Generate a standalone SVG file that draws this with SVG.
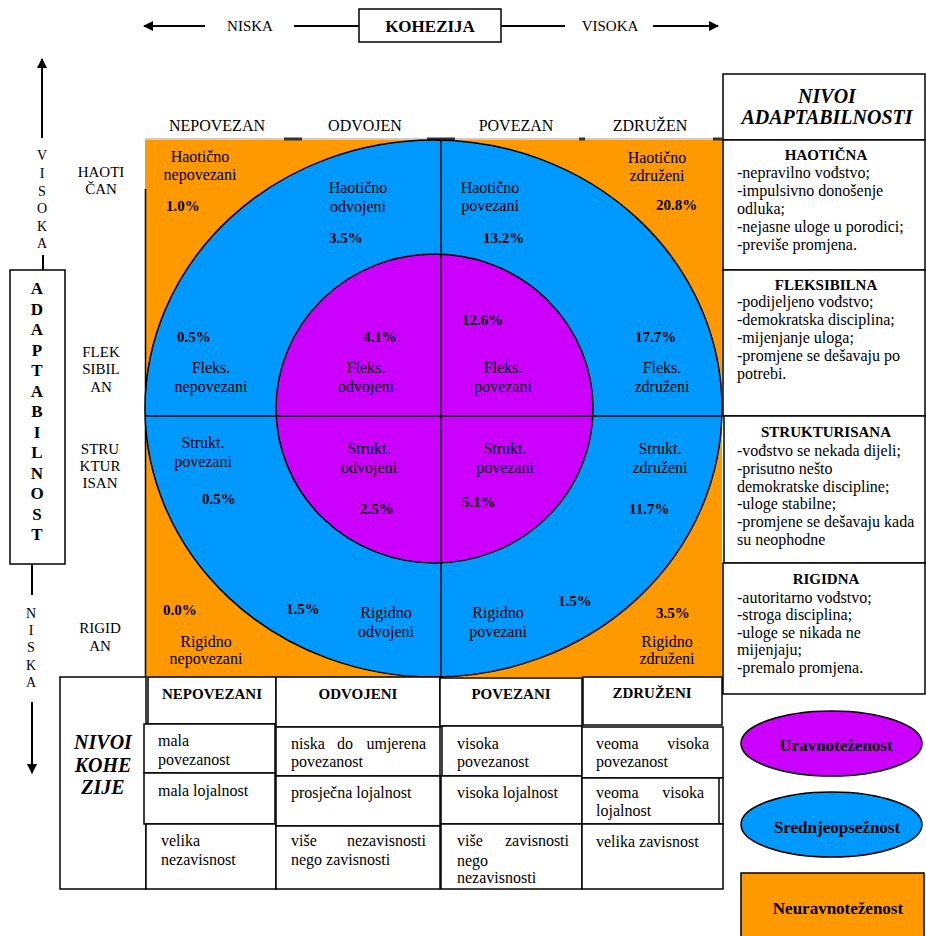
<svg xmlns="http://www.w3.org/2000/svg" width="926" height="936" viewBox="0 0 926 936">
<defs>
<style>
text{font-family:"Liberation Serif","Times New Roman",serif;font-size:16px;fill:#000}
.c{text-anchor:middle}
.e{text-anchor:end}
.b{font-weight:bold}
.p{font-weight:bold;font-size:15px}
.h{font-size:15px}
.bi{font-weight:bold;font-style:italic;font-size:20px}
.ax{font-size:14px;text-anchor:middle}
.al{font-weight:bold;font-size:17px;text-anchor:middle}
.box{fill:#fff;stroke:#000;stroke-width:1.5}
.ln{stroke:#000;stroke-width:1.5;fill:none}
.arr{stroke:#000;stroke-width:2;fill:none}
</style>
<marker id="ah" viewBox="0 0 10 10" refX="9" refY="5" markerWidth="5" markerHeight="5" orient="auto" markerUnits="strokeWidth">
<path d="M0,0 L10,5 L0,10 z" fill="#000"/>
</marker>
</defs>
<rect width="926" height="936" fill="#fff"/>

<g id="model">
<rect x="145" y="140" width="577" height="537" fill="#FF9900"/>
<line x1="145" y1="139" x2="722" y2="139" stroke="#bbb" stroke-width="1.5"/>
<rect x="284" y="137.5" width="18" height="3" fill="#333"/>
<rect x="427" y="137.5" width="28" height="3" fill="#333"/>
<rect x="579" y="137.5" width="6" height="3" fill="#333"/>
<rect x="713" y="137.5" width="9" height="3" fill="#333"/>
<line x1="145.5" y1="189" x2="145.5" y2="677" stroke="#000" stroke-width="1.5"/>
<ellipse cx="433.5" cy="408.5" rx="288.5" ry="268.5" fill="#0099FF" stroke="#000" stroke-width="1.5"/>
<ellipse cx="434.5" cy="408.5" rx="158.5" ry="154.5" fill="#CC00FF" stroke="#000" stroke-width="1.5"/>
<line x1="441" y1="140" x2="441" y2="677" class="ln"/>
<line x1="145" y1="416" x2="724" y2="416" class="ln"/>
</g>

<g id="column-labels">
<text x="217" y="131" class="c">NEPOVEZAN</text>
<text x="365" y="131" class="c">ODVOJEN</text>
<text x="516" y="131" class="c">POVEZAN</text>
<text x="650" y="131" class="c">ZDRUŽEN</text>
</g>

<g id="row-labels">
<text x="101" y="177" class="c h">HAOTI</text>
<text x="101" y="194" class="c h">ČAN</text>
<text x="101" y="357" class="c h">FLEK</text>
<text x="101" y="374" class="c h">SIBIL</text>
<text x="101" y="392" class="c h">AN</text>
<text x="100" y="454" class="c h">STRU</text>
<text x="100" y="471" class="c h">KTUR</text>
<text x="100" y="488" class="c h">ISAN</text>
<text x="100" y="633" class="c h">RIGID</text>
<text x="100" y="651" class="c h">AN</text>
</g>

<g id="q-haoticno-nepovezani"><text x="200" y="162" class="c">Haotično</text><text x="200" y="180" class="c">nepovezani</text><text x="166" y="211" class="p">1.0%</text></g>
<g id="q-haoticno-odvojeni"><text x="358" y="193" class="c">Haotično</text><text x="358" y="212" class="c">odvojeni</text><text x="329" y="243" class="p">3.5%</text></g>
<g id="q-haoticno-povezani"><text x="490" y="193" class="c">Haotično</text><text x="490" y="211" class="c">povezani</text><text x="483" y="243" class="p">13.2%</text></g>
<g id="q-haoticno-zdruzeni"><text x="657" y="163" class="c">Haotično</text><text x="657" y="181" class="c">združeni</text><text x="656" y="210" class="p">20.8%</text></g>

<g id="q-fleks-nepovezani"><text x="177" y="342" class="p">0.5%</text><text x="211" y="373" class="c">Fleks.</text><text x="211" y="392" class="c">nepovezani</text></g>
<g id="q-fleks-odvojeni"><text x="363" y="342" class="p">4.1%</text><text x="366" y="373" class="c">Fleks.</text><text x="366" y="392" class="c">odvojeni</text></g>
<g id="q-fleks-povezani"><text x="462" y="325" class="p">12.6%</text><text x="503" y="373" class="c">Fleks.</text><text x="503" y="392" class="c">povezani</text></g>
<g id="q-fleks-zdruzeni"><text x="635" y="342" class="p">17.7%</text><text x="662" y="373" class="c">Fleks.</text><text x="662" y="392" class="c">združeni</text></g>

<g id="q-strukt-nepovezani"><text x="203" y="448" class="c">Strukt.</text><text x="203" y="467" class="c">povezani</text><text x="202" y="504" class="p">0.5%</text></g>
<g id="q-strukt-odvojeni"><text x="369" y="454" class="c">Strukt.</text><text x="369" y="473" class="c">odvojeni</text><text x="360" y="514" class="p">2.5%</text></g>
<g id="q-strukt-povezani"><text x="505" y="454" class="c">Strukt.</text><text x="505" y="473" class="c">povezani</text><text x="462" y="507" class="p">5.1%</text></g>
<g id="q-strukt-zdruzeni"><text x="660" y="454" class="c">Strukt.</text><text x="660" y="473" class="c">združeni</text><text x="629" y="514" class="p">11.7%</text></g>

<g id="q-rigidno-nepovezani"><text x="163" y="615" class="p">0.0%</text><text x="206" y="647" class="c">Rigidno</text><text x="206" y="664" class="c">nepovezani</text></g>
<g id="q-rigidno-odvojeni"><text x="286" y="614" class="p">1.5%</text><text x="386" y="618" class="c">Rigidno</text><text x="386" y="637" class="c">odvojeni</text></g>
<g id="q-rigidno-povezani"><text x="558" y="606" class="p">1.5%</text><text x="498" y="618" class="c">Rigidno</text><text x="498" y="637" class="c">povezani</text></g>
<g id="q-rigidno-zdruzeni"><text x="656" y="618" class="p">3.5%</text><text x="667" y="647" class="c">Rigidno</text><text x="667" y="664" class="c">združeni</text></g>

<g id="kohezija">
<rect x="359" y="9" width="142" height="33" class="box"/>
<text x="430" y="32" class="c b" style="font-size:17px">KOHEZIJA</text>
<text x="250" y="31" class="c h">NISKA</text>
<text x="610" y="31" class="c h">VISOKA</text>
</g>

<g id="adaptabilnost">
<rect x="10" y="270" width="55" height="294" class="box"/>
<text x="37" y="294" class="al">A</text>
<text x="37" y="314.5" class="al">D</text>
<text x="37" y="335" class="al">A</text>
<text x="37" y="355.5" class="al">P</text>
<text x="37" y="376" class="al">T</text>
<text x="37" y="396.5" class="al">A</text>
<text x="37" y="417" class="al">B</text>
<text x="37" y="437.5" class="al">I</text>
<text x="37" y="458" class="al">L</text>
<text x="37" y="478.5" class="al">N</text>
<text x="37" y="499" class="al">O</text>
<text x="37" y="519.5" class="al">S</text>
<text x="37" y="540" class="al">T</text>
<text x="42" y="160" class="ax">V</text>
<text x="42" y="178" class="ax">I</text>
<text x="42" y="196" class="ax">S</text>
<text x="42" y="213" class="ax">O</text>
<text x="42" y="231" class="ax">K</text>
<text x="42" y="248" class="ax">A</text>
<text x="31" y="618" class="ax">N</text>
<text x="31" y="635" class="ax">I</text>
<text x="31" y="652" class="ax">S</text>
<text x="31" y="670" class="ax">K</text>
<text x="31" y="687" class="ax">A</text>
</g>

<g id="connectors">
<line x1="205" y1="26" x2="144" y2="26" class="arr" marker-end="url(#ah)"/>
<line x1="294" y1="26" x2="359" y2="26" class="arr"/>
<line x1="501" y1="26" x2="565" y2="26" class="arr"/>
<line x1="653" y1="26" x2="718" y2="26" class="arr" marker-end="url(#ah)"/>
<line x1="42" y1="138" x2="42" y2="59" class="arr" marker-end="url(#ah)"/>
<line x1="43" y1="255" x2="43" y2="270" class="arr"/>
<line x1="32" y1="564" x2="32" y2="595" class="arr"/>
<line x1="32" y1="702" x2="32" y2="773" class="arr" marker-end="url(#ah)"/>
</g>

<g id="nivoi-adaptabilnosti">
<rect x="723" y="74" width="202" height="66" class="box"/>
<text x="827" y="103" class="c bi">NIVOI</text>
<text x="827" y="124" class="c bi">ADAPTABILNOSTI</text>
</g>
<g id="panel-haoticna">
<rect x="723" y="140" width="202" height="130" class="box"/>
<text x="826" y="160" class="c p">HAOTIČNA</text>
<text x="737" y="178">-nepravilno vođstvo;</text>
<text x="737" y="196">-impulsivno donošenje</text>
<text x="737" y="214">odluka;</text>
<text x="737" y="232">-nejasne uloge u porodici;</text>
<text x="737" y="250">-previše promjena.</text>
</g>
<g id="panel-fleksibilna">
<rect x="723" y="270" width="202" height="146" class="box"/>
<text x="826" y="290" class="c p">FLEKSIBILNA</text>
<text x="737" y="307">-podijeljeno vođstvo;</text>
<text x="737" y="325">-demokratska disciplina;</text>
<text x="737" y="343">-mijenjanje uloga;</text>
<text x="737" y="361">-promjene se dešavaju po</text>
<text x="737" y="379">potrebi.</text>
</g>
<g id="panel-strukturisana">
<rect x="724" y="416" width="201" height="147" class="box"/>
<text x="826" y="437" class="c p">STRUKTURISANA</text>
<text x="737" y="456">-vođstvo se nekada dijeli;</text>
<text x="737" y="474">-prisutno nešto</text>
<text x="737" y="492">demokratske discipline;</text>
<text x="737" y="509">-uloge stabilne;</text>
<text x="737" y="527">-promjene se dešavaju kada</text>
<text x="737" y="545">su neophodne</text>
</g>
<g id="panel-rigidna">
<rect x="723" y="563" width="202" height="131" class="box"/>
<text x="826" y="584" class="c p">RIGIDNA</text>
<text x="737" y="603">-autoritarno vođstvo;</text>
<text x="737" y="620">-stroga disciplina;</text>
<text x="737" y="638">-uloge se nikada ne</text>
<text x="737" y="655">mijenjaju;</text>
<text x="737" y="673">-premalo promjena.</text>
</g>

<g id="nivoi-kohezije">
<rect x="60" y="677" width="86" height="212" class="box"/>
<text x="103" y="749" class="c bi">NIVOI</text>
<text x="103" y="772" class="c bi">KOHE</text>
<text x="103" y="794" class="c bi">ZIJE</text>
</g>
<g id="col-nepovezani">
<rect x="148" y="677" width="128" height="47" class="box"/>
<text x="212" y="699" class="c p">NEPOVEZANI</text>
<rect x="144" y="724" width="131" height="49" class="box"/>
<text x="158" y="746">mala</text><text x="158" y="765">povezanost</text>
<rect x="144" y="773" width="131" height="51" class="box"/>
<text x="158" y="796">mala lojalnost</text>
<rect x="146" y="824" width="130" height="65" class="box"/>
<text x="161" y="846">velika</text><text x="161" y="865">nezavisnost</text>
</g>
<g id="col-odvojeni">
<rect x="276" y="677" width="164" height="50" class="box"/>
<text x="358" y="699" class="c p">ODVOJENI</text>
<rect x="276" y="727" width="164" height="49" class="box"/>
<text x="291" y="749">niska</text><text x="345" y="749" class="c">do</text><text x="426" y="749" class="e">umjerena</text>
<text x="291" y="767">povezanost</text>
<rect x="276" y="776" width="164" height="50" class="box"/>
<text x="291" y="798">prosječna lojalnost</text>
<rect x="276" y="826" width="164" height="63" class="box"/>
<text x="291" y="846">više</text><text x="426" y="846" class="e">nezavisnosti</text>
<text x="291" y="865">nego zavisnosti</text>
</g>
<g id="col-povezani">
<rect x="440" y="678" width="142" height="48" class="box"/>
<text x="511" y="699" class="c p">POVEZANI</text>
<rect x="442" y="726" width="140" height="50" class="box"/>
<text x="457" y="749">visoka</text><text x="457" y="767">povezanost</text>
<rect x="441" y="776" width="141" height="48" class="box"/>
<text x="457" y="798">visoka lojalnost</text>
<rect x="441" y="824" width="141" height="65" class="box"/>
<text x="457" y="846">više</text><text x="569" y="846" class="e">zavisnosti</text>
<text x="457" y="866">nego</text><text x="457" y="883">nezavisnosti</text>
</g>
<g id="col-zdruzeni">
<rect x="583" y="677" width="139" height="48" class="box"/>
<text x="652" y="698" class="c p">ZDRUŽENI</text>
<rect x="582" y="727" width="141" height="51" class="box"/>
<text x="596" y="749">veoma</text><text x="709" y="749" class="e">visoka</text>
<text x="596" y="767">povezanost</text>
<rect x="582" y="778" width="141" height="46" class="box"/>
<line x1="719" y1="778" x2="719" y2="824" class="ln"/>
<text x="596" y="798">veoma</text><text x="704" y="798" class="e">visoka</text>
<text x="596" y="816">lojalnost</text>
<rect x="582" y="824" width="141" height="65" class="box"/>
<text x="596" y="847">velika zavisnost</text>
</g>

<g id="legend-uravnotezenost">
<ellipse cx="831.5" cy="743.5" rx="90.5" ry="32.5" fill="#CC00FF" stroke="#000" stroke-width="1.5"/>
<text x="836" y="751" class="c b" style="font-size:17px">Uravnoteženost</text>
</g>
<g id="legend-srednjeopseznost">
<ellipse cx="831.5" cy="824.5" rx="90.5" ry="32.5" fill="#0099FF" stroke="#000" stroke-width="1.5"/>
<text x="837" y="833" class="c b" style="font-size:17px">Srednjeopsežnost</text>
</g>
<g id="legend-neuravnotezenost">
<rect x="741" y="873" width="183" height="70" fill="#FF9900" stroke="#000" stroke-width="1.5"/>
<text x="838" y="914" class="c b" style="font-size:17px">Neuravnoteženost</text>
</g>
</svg>
